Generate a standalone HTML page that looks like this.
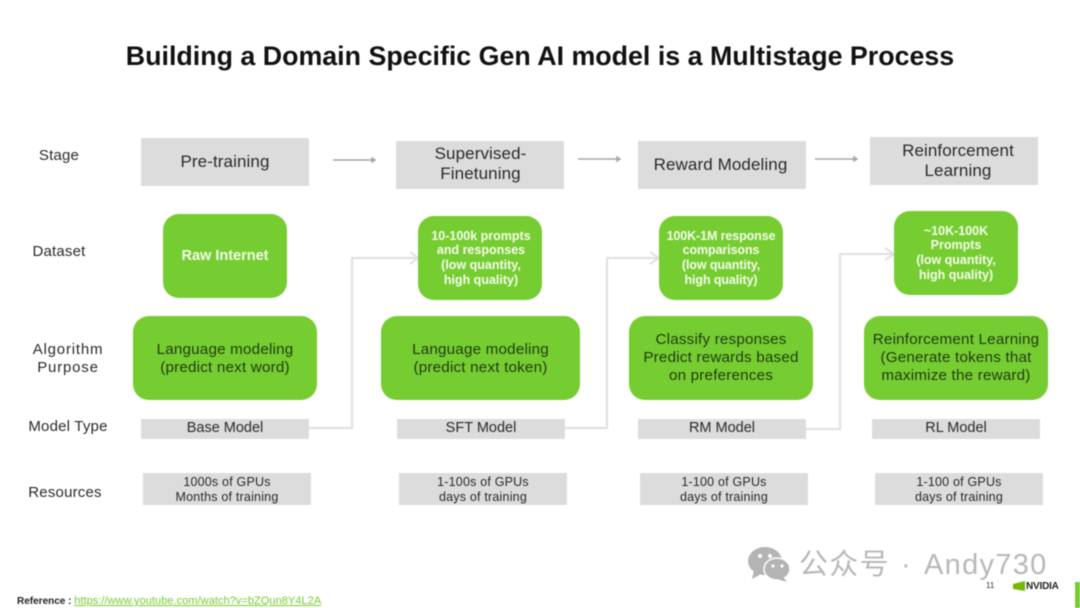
<!DOCTYPE html>
<html><head><meta charset="utf-8">
<style>
html,body{margin:0;padding:0;background:#fff}
#p{position:relative;width:1080px;height:608px;overflow:hidden;background:#fff;font-family:"Liberation Sans","Noto Sans CJK SC",sans-serif;color:#2a2a2a;filter:blur(.4px)}
.b{position:absolute;display:flex;align-items:center;justify-content:center;text-align:center;box-sizing:border-box;white-space:nowrap}
.g{background:#dcdcdc}
.v{background:#76cd32;border-radius:16px}
.d{color:#f4fbe9;font-size:12.5px;line-height:14.6px;font-weight:bold}
.a{color:#1f3a12;font-size:15.2px;line-height:18px;letter-spacing:.2px}
.s{font-size:17px;line-height:20px;letter-spacing:.1px}
.m{font-size:14.5px;padding-bottom:2px}
.r{font-size:12.5px;line-height:15px;letter-spacing:.2px;padding-top:1px}
.l{position:absolute;font-size:15px;text-align:center;white-space:nowrap;transform:translateX(-50%);line-height:16px;color:#2a2a2a;letter-spacing:.2px}
svg{position:absolute;left:0;top:0}
</style></head><body><div id="p">
<div class="b" style="left:0;top:38px;width:1080px;height:36px;font-size:26.8px;font-weight:bold;color:#111;letter-spacing:0"><span>Building a Domain Specific Gen AI model is a Multistage Process</span></div>

<div class="l" style="left:59px;top:148px">Stage</div>
<div class="l" style="left:59px;top:244px">Dataset</div>
<div class="l" style="left:68px;top:341px;line-height:18px;letter-spacing:.8px">Algorithm<br>Purpose</div>
<div class="l" style="left:68px;top:419px">Model Type</div>
<div class="l" style="left:65px;top:485px">Resources</div>

<svg width="1080" height="608">
<g fill="none" stroke="#e0e0e0" stroke-width="2">
<path d="M309 428H352V258H416"/><path d="M410 252L418 258L410 264"/>
<path d="M565 428H607V258H657"/><path d="M650 252L659 258L650 264"/>
<path d="M806 429H840V254H892"/><path d="M885 248L894 254L885 260"/>
</g>
<g stroke="#a8a8a8" stroke-width="1.5" fill="#a8a8a8">
<path d="M333 160H372"/><path d="M372 158V162L375 160Z"/>
<path d="M578 159H617"/><path d="M617 157V161L620 159Z"/>
<path d="M815 159H854"/><path d="M854 157V161L857 159Z"/>
</g>
</svg>

<div class="b g s" style="left:141px;top:138px;width:168px;height:48px">Pre-training</div>
<div class="b g s" style="left:396px;top:141px;width:168px;height:48px;padding-bottom:3px;padding-left:1px">Supervised-<br>Finetuning</div>
<div class="b g s" style="left:638px;top:141px;width:168px;height:48px;padding-right:3px">Reward Modeling</div>
<div class="b g s" style="left:870px;top:137px;width:168px;height:48px;padding-left:8px">Reinforcement<br>Learning</div>

<div class="b v d" style="left:163px;top:214px;width:124px;height:84px;font-size:14.5px">Raw Internet</div>
<div class="b v d" style="left:418px;top:216px;width:124px;height:84px;padding-left:2px">10-100k prompts<br>and responses<br>(low quantity,<br>high quality)</div>
<div class="b v d" style="left:659px;top:216px;width:124px;height:84px;letter-spacing:-.1px">100K-1M response<br>comparisons<br>(low quantity,<br>high quality)</div>
<div class="b v d" style="left:894px;top:211px;width:124px;height:84px">~10K-100K<br>Prompts<br>(low quantity,<br>high quality)</div>

<div class="b v a" style="left:133px;top:316px;width:184px;height:84px;padding-top:2px">Language modeling<br>(predict next word)</div>
<div class="b v a" style="left:381px;top:316px;width:199px;height:84px;padding-top:2px">Language modeling<br>(predict next token)</div>
<div class="b v a" style="left:629px;top:316px;width:184px;height:84px">Classify responses<br>Predict rewards based<br>on preferences</div>
<div class="b v a" style="left:864px;top:316px;width:184px;height:84px">Reinforcement Learning<br>(Generate tokens that<br>maximize the reward)</div>

<div class="b g m" style="left:141px;top:419px;width:168px;height:20px">Base Model</div>
<div class="b g m" style="left:397px;top:419px;width:168px;height:20px">SFT Model</div>
<div class="b g m" style="left:638px;top:419px;width:168px;height:20px">RM Model</div>
<div class="b g m" style="left:872px;top:419px;width:168px;height:20px">RL Model</div>

<div class="b g r" style="left:143px;top:473px;width:168px;height:32px">1000s of GPUs<br>Months of training</div>
<div class="b g r" style="left:399px;top:473px;width:168px;height:32px">1-100s of GPUs<br>days of training</div>
<div class="b g r" style="left:640px;top:473px;width:168px;height:32px">1-100 of GPUs<br>days of training</div>
<div class="b g r" style="left:875px;top:473px;width:168px;height:32px">1-100 of GPUs<br>days of training</div>

<div style="position:absolute;left:17px;top:595px;font-size:10px;line-height:13px;white-space:nowrap;color:#222"><b>Reference :</b> <span style="color:#76cd32;text-decoration:underline;font-size:11.1px">https://www.youtube.com/watch?v=bZQun8Y4L2A</span></div>

<svg width="1080" height="608">
<g fill="#b4b4b4">
<ellipse cx="765" cy="561" rx="17" ry="14"/><path d="M754 570L752 579L763 573Z"/>
<ellipse cx="777" cy="569" rx="13" ry="11" stroke="#fff" stroke-width="1.5"/><path d="M783 577L787 582L777 579Z"/>
</g>
<g fill="#fff"><circle cx="760" cy="556" r="2"/><circle cx="770" cy="556" r="2"/><circle cx="773" cy="566" r="1.6"/><circle cx="782" cy="566" r="1.6"/></g>
<path d="M1013 584L1025 581V591L1013 589Z" fill="#76b900"/>
<rect x="1075" y="582" width="5" height="26" fill="#76cd32"/>
</svg>
<div style="position:absolute;left:799px;top:549px;font-size:29px;line-height:32px;color:#b8b8b8;white-space:nowrap;letter-spacing:1.3px">公众号</div>
<div style="position:absolute;left:901px;top:549px;font-size:29px;line-height:32px;color:#b8b8b8;white-space:nowrap">·</div>
<div style="position:absolute;left:924px;top:549px;font-size:29px;line-height:32px;color:#b8b8b8;white-space:nowrap;letter-spacing:1.3px">Andy730</div>
<div style="position:absolute;left:986px;top:581px;font-size:8px;line-height:10px;color:#333">11</div>
<div style="position:absolute;left:1026px;top:581px;font-size:10px;line-height:11px;font-weight:bold;color:#222;letter-spacing:-.2px">NVIDIA</div>
</div></body></html>
